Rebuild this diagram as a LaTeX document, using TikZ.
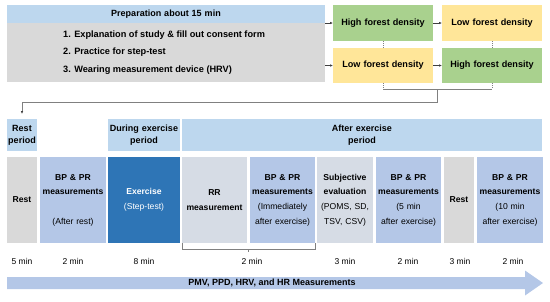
\documentclass[tikz,border=0pt]{standalone}
\usepackage{fontspec}
\setmainfont{Liberation Sans}
\usetikzlibrary{arrows.meta}
\definecolor{hdr}{HTML}{BDD7EE}
\definecolor{prepgray}{HTML}{D9D9D9}
\definecolor{grn}{HTML}{A9D18E}
\definecolor{ylw}{HTML}{FFE699}
\definecolor{mblue}{HTML}{B4C7E7}
\definecolor{dblue}{HTML}{2E75B6}
\definecolor{lgb}{HTML}{D6DCE5}
\definecolor{restgray}{HTML}{D9D9D9}
\definecolor{linegray}{HTML}{808080}
\definecolor{arrgray}{HTML}{404040}
\tikzset{
  blk/.style={anchor=north west, inner sep=0pt, outer sep=0pt, align=center},
  sz/.style 2 args={minimum width=#1pt, minimum height=#2pt, text width=#1pt},
  bt/.style={font=\fontsize{8.6}{14.7}\selectfont},
  ht/.style={font=\fontsize{9}{12}\selectfont\bfseries},
  ft/.style={font=\fontsize{9.1}{11}\selectfont\bfseries},
  dur/.style={font=\fontsize{8.5}{10}\selectfont, inner sep=0pt},
  arr/.style={draw=arrgray, line width=0.6pt, -{Latex[length=3pt,width=2.6pt]}},
  garr/.style={draw=linegray, line width=0.6pt, -{Latex[length=3pt,width=2.6pt,color=arrgray]}},
  gline/.style={draw=linegray, line width=0.6pt},
  dotline/.style={draw=linegray, line width=0.6pt, dash pattern=on 1pt off 1pt},
}
\begin{document}
\begin{tikzpicture}[x=1pt,y=-1pt]
\useasboundingbox (0,0) rectangle (550,301);

% Preparation
\node[blk, fill=hdr, sz={318}{18}, ht] (prephdr) at (7,5) {Preparation about 15 min};
\node[blk, fill=prepgray, sz={318}{59}] (prepbody) at (7,23) {};
\node[anchor=west, inner sep=0pt, align=left, font=\fontsize{9.2}{17.5}\selectfont\bfseries] (prepitems) at (63,52.5)
  {1. Explanation of study \& fill out consent form\\2. Practice for step-test\\3. Wearing measurement device (HRV)};

% Forest boxes
\node[blk, fill=grn, sz={100}{36}, ft] (hiA) at (333,5) {High forest density};
\node[blk, fill=ylw, sz={100}{36}, ft] (loA) at (442,5) {Low forest density};
\node[blk, fill=ylw, sz={100}{35}, ft] (loB) at (333,48) {Low forest density};
\node[blk, fill=grn, sz={100}{35}, ft] (hiB) at (442,48) {High forest density};

\draw[arr] (hiA.west -| prepbody.east) -- (hiA.west);
\draw[arr] (loB.west -| prepbody.east) -- (loB.west);
\draw[arr] (hiA.east) -- (loA.west);
\draw[arr] (loB.east) -- (hiB.west);
\draw[dotline] (hiA.south) -- (loB.north);
\draw[dotline] (loA.south) -- (hiB.north);

\coordinate (jn) at (437.5,89);
\draw[dotline] (loB.south) -- (loB.south |- jn);
\draw[dotline] (hiB.south) -- (hiB.south |- jn);
\draw[gline] (loB.south |- jn) -- (hiB.south |- jn);

% Headers
\node[blk, fill=hdr, sz={30}{32}, ht] (resthdr) at (7,119) {Rest\\period};
\node[blk, fill=hdr, sz={72}{32}, ht] (durhdr) at (108,119) {During exercise\\period};
\node[blk, fill=hdr, sz={360}{32}, ht] (afthdr) at (182,119) {After exercise\\period};

\draw[garr, shorten >=5pt] (jn) -- ++(0,13) -| (resthdr.north);

% Main row
\node[blk, fill=restgray, sz={30}{86}, bt] (rest1) at (7,157) {\textbf{Rest}};
\node[blk, fill=mblue, sz={66}{86}, bt] (bp1) at (40,157) {\textbf{BP \& PR}\\\textbf{measurements}\\[14.7pt](After rest)};
\node[blk, fill=dblue, sz={72}{86}, bt, text=white] (ex) at (108,157) {\textbf{Exercise}\\(Step-test)};
\node[blk, fill=lgb, sz={65}{86}, bt] (rr) at (182,157) {\textbf{RR}\\\textbf{measurement}};
\node[blk, fill=mblue, sz={65}{86}, bt] (bp2) at (250,157) {\textbf{BP \& PR}\\\textbf{measurements}\\(Immediately\\after exercise)};
\node[blk, fill=lgb, sz={56}{86}, bt] (subj) at (317,157) {\textbf{Subjective}\\\textbf{evaluation}\\(POMS, SD,\\TSV, CSV)};
\node[blk, fill=mblue, sz={65}{86}, bt] (bp3) at (376,157) {\textbf{BP \& PR}\\\textbf{measurements}\\(5 min\\after exercise)};
\node[blk, fill=restgray, sz={30}{86}, bt] (rest2) at (444,157) {\textbf{Rest}};
\node[blk, fill=mblue, sz={66}{86}, bt] (bp4) at (477,157) {\textbf{BP \& PR}\\\textbf{measurements}\\(10 min\\after exercise)};

% bracket under RR + BP
\draw[gline] (rr.south west) -- ++(0,6) -| (bp2.south east);
\coordinate (tk) at (248.5,249);
\draw[gline] (tk) -- ++(0,3);

% durations
\node[dur] (d1) at (22,261) {5 min};
\node[dur] (d2) at (73,261) {2 min};
\node[dur] (d3) at (144,261) {8 min};
\node[dur] (d4) at (252,261) {2 min};
\node[dur] (d5) at (345,261) {3 min};
\node[dur] (d6) at (408,261) {2 min};
\node[dur] (d7) at (460,261) {3 min};
\node[dur] (d8) at (513,261) {2 min};

% bottom arrow
\fill[mblue] (7,277) -- (525,277) -- (525,270.5) -- (543,283) -- (525,295.5) -- (525,289) -- (7,289) -- cycle;
\node[ht, inner sep=0pt] (meas) at (272,283) {PMV, PPD, HRV, and HR Measurements};
\end{tikzpicture}
\end{document}
